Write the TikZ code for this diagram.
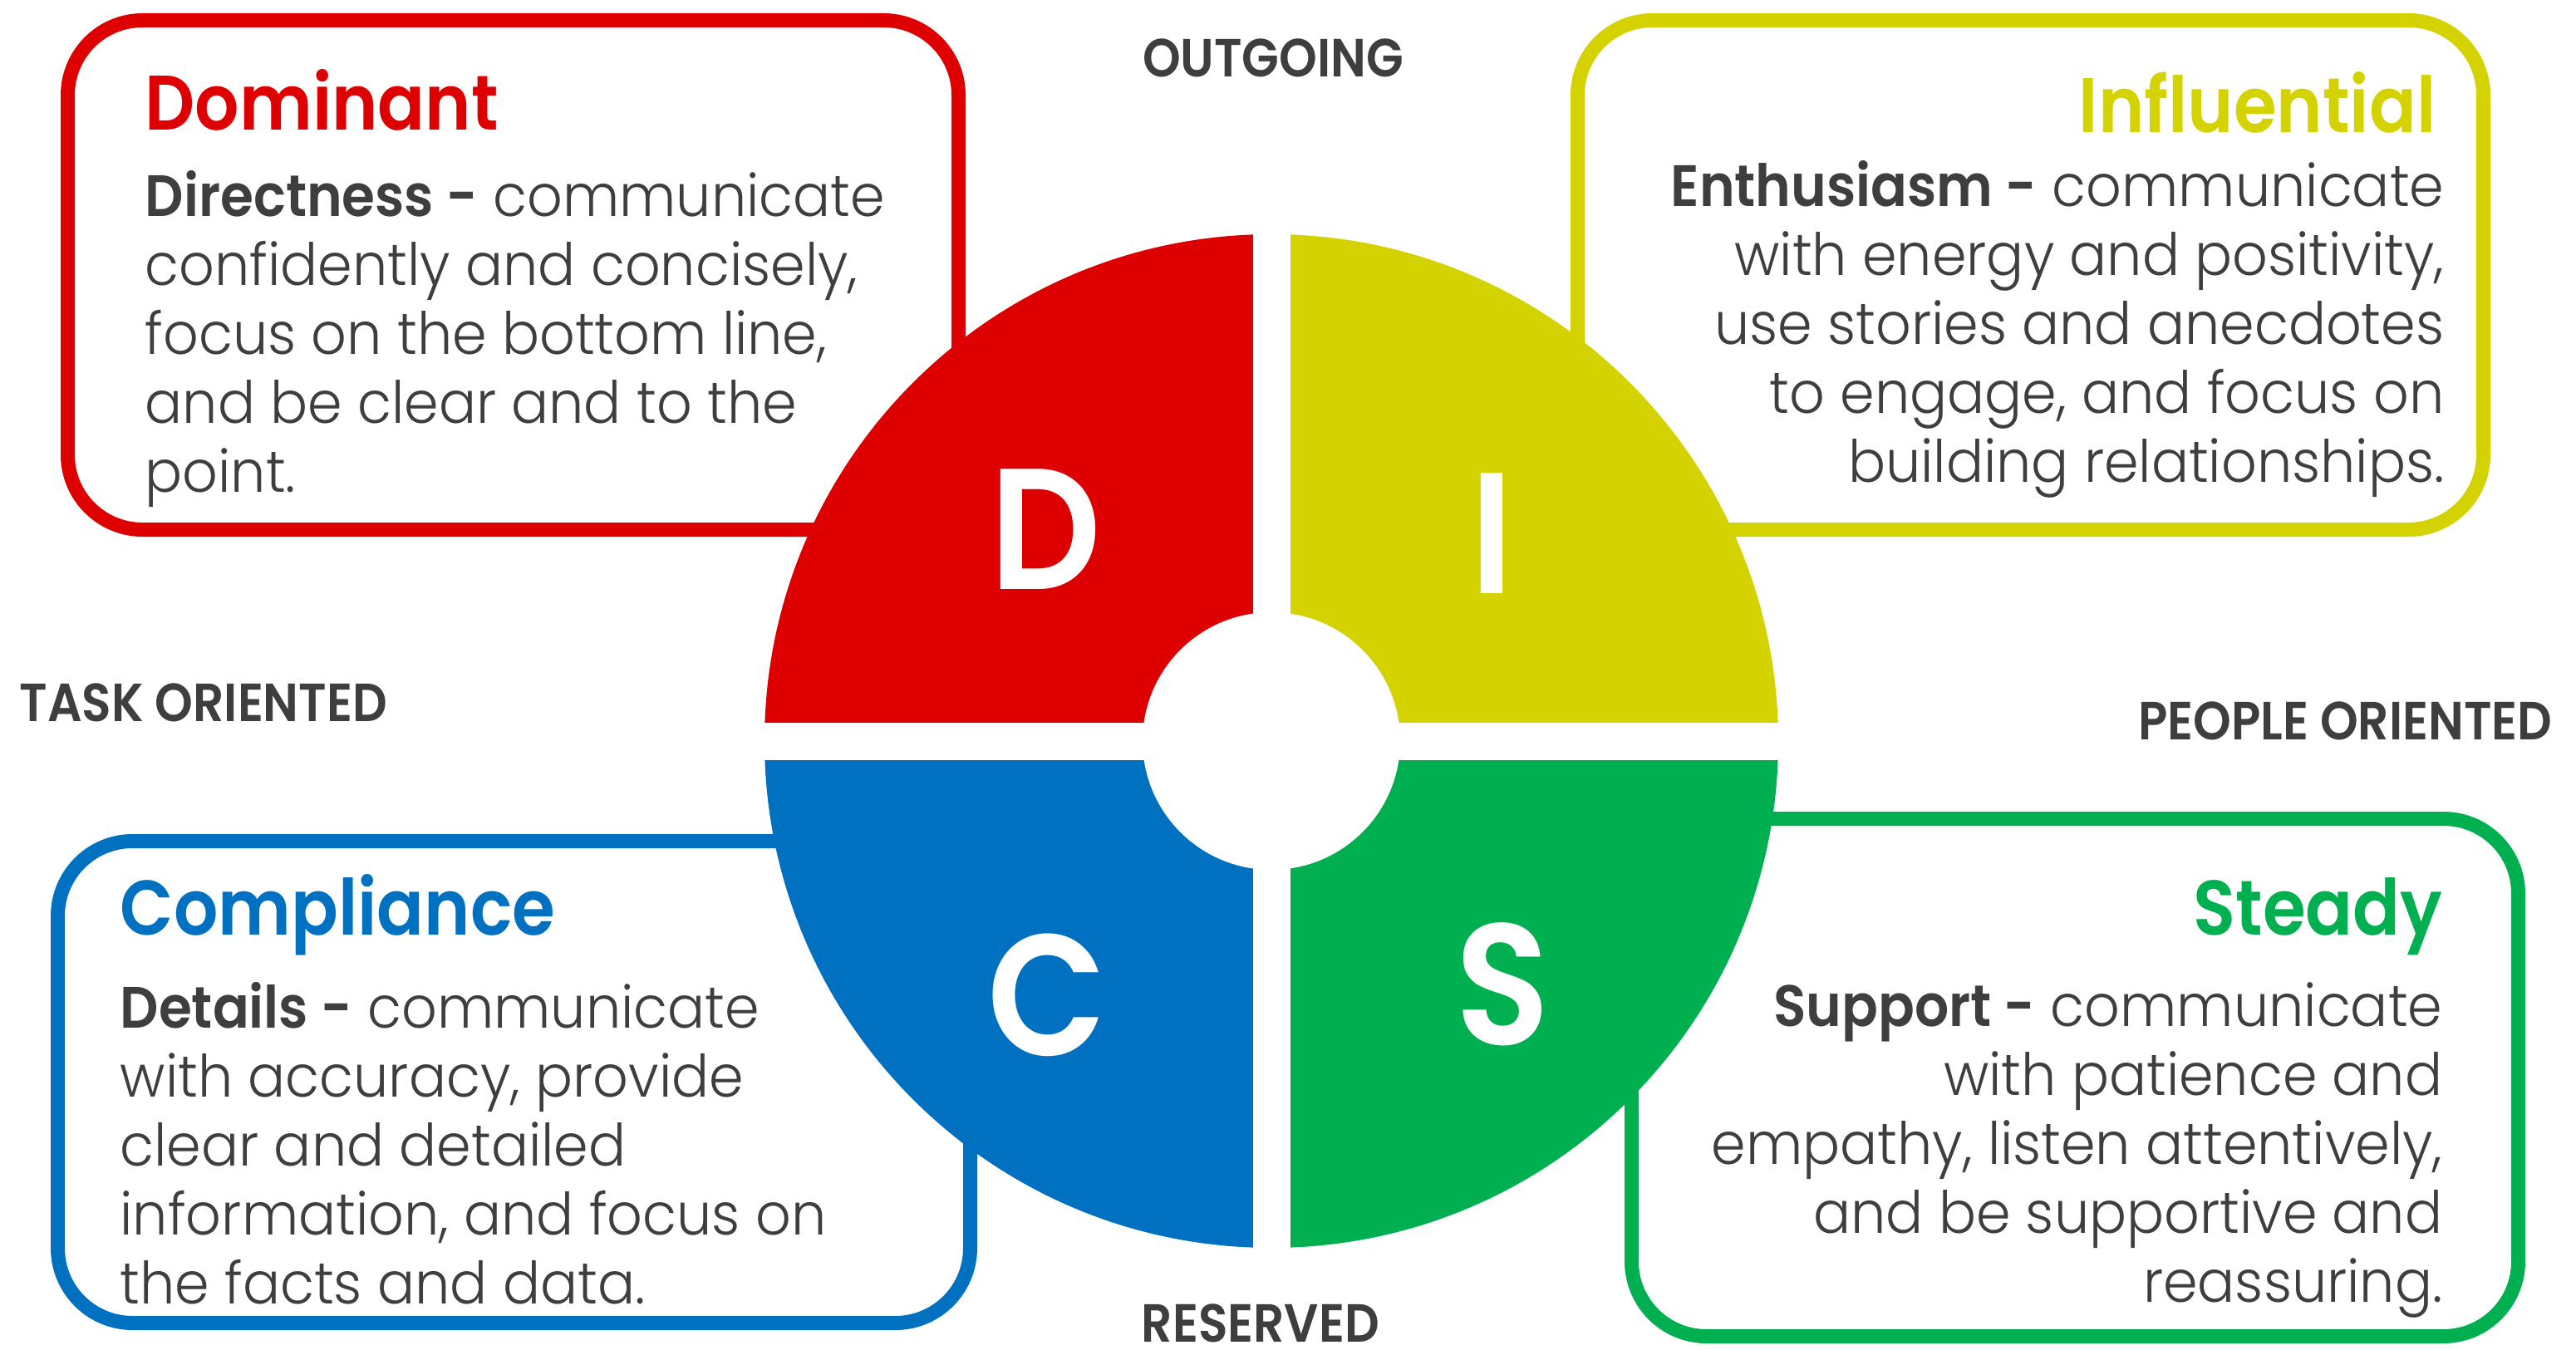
\documentclass[tikz,border=0pt]{standalone}
\usepackage{fontspec}
\setmainfont{Poppins}[UprightFont=* Light,BoldFont=* SemiBold,UprightFeatures={FakeStretch=0.95},BoldFeatures={FakeStretch=0.92}]
\newfontfamily\headfont{Poppins}[UprightFont=* SemiBold,UprightFeatures={FakeStretch=0.9}]
\usetikzlibrary{positioning}
\definecolor{discred}{RGB}{222,0,0}
\definecolor{discyellow}{RGB}{212,210,0}
\definecolor{discblue}{RGB}{0,112,192}
\definecolor{discgreen}{RGB}{0,176,80}
\definecolor{txtgray}{RGB}{62,62,62}
\begin{document}
\begin{tikzpicture}[card/.style={draw,line width=0.17cm,rounded corners=0.9cm,fill=white,inner sep=0pt},
  ttl/.style={font=\fontsize{26.5}{30}\selectfont\headfont,inner sep=0pt},
  body/.style={font=\fontsize{20}{23.6}\selectfont,text=txtgray,inner sep=0pt},
  axis/.style={font=\fontsize{18.4}{22}\selectfont\headfont,text=txtgray,inner sep=0pt},
  letter/.style={font=\fontsize{59}{60}\selectfont\headfont,text=white,inner sep=0pt}]

\useasboundingbox (0,0) rectangle (31,16.24);

% the four cards
\node[card,draw=discred,minimum width=10.72cm,minimum height=6.13cm] (dbox) at (6.175,12.93) {};
\node[card,draw=discyellow,minimum width=10.90cm,minimum height=6.13cm] (ibox) at (24.435,12.93) {};
\node[card,draw=discblue,minimum width=10.98cm,minimum height=5.80cm] (cbox) at (6.185,3.215) {};
\node[card,draw=discgreen,minimum width=10.67cm,minimum height=6.23cm] (sbox) at (24.97,3.27) {};

% the wheel
\coordinate (ctr) at (15.30,7.32);
\fill[discred] (ctr) -- ++(180:6.1) arc[start angle=180,end angle=90,radius=6.1] -- cycle;
\fill[discyellow] (ctr) -- ++(90:6.1) arc[start angle=90,end angle=0,radius=6.1] -- cycle;
\fill[discgreen] (ctr) -- ++(0:6.1) arc[start angle=0,end angle=-90,radius=6.1] -- cycle;
\fill[discblue] (ctr) -- ++(-90:6.1) arc[start angle=-90,end angle=-180,radius=6.1] -- cycle;
\fill[white] ([xshift=-0.225cm,yshift=-6.2cm]ctr) rectangle ([xshift=0.225cm,yshift=6.2cm]ctr);
\fill[white] ([xshift=-6.2cm,yshift=-0.225cm]ctr) rectangle ([xshift=6.2cm,yshift=0.225cm]ctr);
\fill[white] (ctr) circle (1.55);

\node[letter] (dl) at (12.58,9.87) {D};
\node[letter] (il) at (17.95,9.82) {I};
\node[letter] (cl) at (12.60,4.26) {C};
\node[letter] (sl) at (18.08,4.39) {S};

% card texts
\node[ttl,text=discred,anchor=base west] (dttl) at (1.74,14.67) {Dominant};
\node[body,align=left,anchor=north west] (dtxt) at (1.74,14.19) {\textbf{Directness -} communicate\\confidently and concisely,\\focus on the bottom line,\\and be clear and to the\\point.};

\node[ttl,text=discyellow,anchor=base east] (ittl) at (29.32,14.64) {Influential};
\node[body,align=right,anchor=north east] (itxt) at (29.42,14.31) {\textbf{Enthusiasm -} communicate\\with energy and positivity,\\use stories and anecdotes\\to engage, and focus on\\building relationships.};

\node[ttl,text=discblue,anchor=base west] (cttl) at (1.44,4.99) {Compliance};
\node[body,align=left,anchor=north west] (ctxt) at (1.44,4.42) {\textbf{Details -} communicate\\with accuracy, provide\\clear and detailed\\information, and focus on\\the facts and data.};

\node[ttl,text=discgreen,anchor=base east] (sttl) at (29.40,4.99) {Steady};
\node[body,align=right,anchor=north east] (stxt) at (29.40,4.42) {\textbf{Support -} communicate\\with patience and\\empathy, listen attentively,\\and be supportive and\\reassuring.};

% axis labels
\node[axis] (outg) at (15.32,15.545) {OUTGOING};
\node[axis] (resv) at (15.17,0.31) {RESERVED};
\node[axis,anchor=west] (task) at (0.23,7.78) {TASK ORIENTED};
\node[axis,anchor=east] (ppl) at (30.72,7.56) {PEOPLE ORIENTED};

\end{tikzpicture}
\end{document}
